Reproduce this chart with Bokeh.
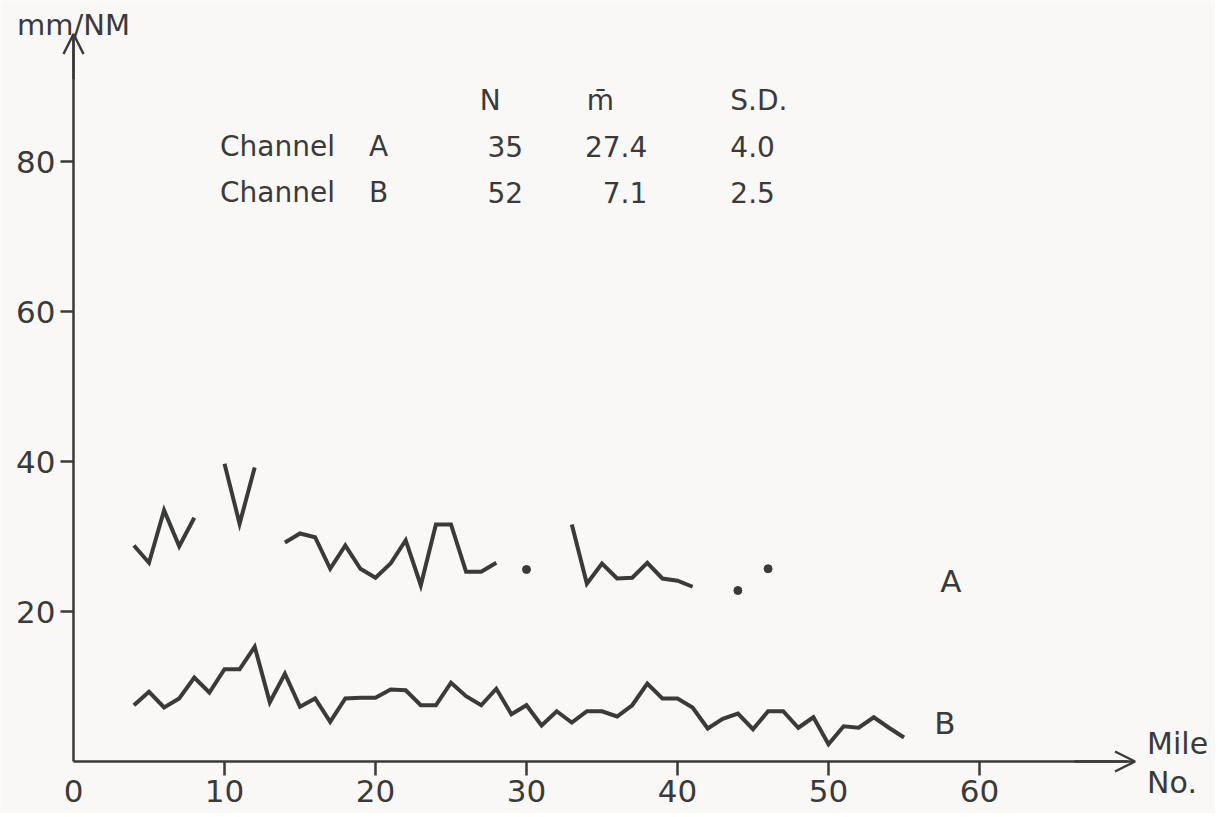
from bokeh.plotting import figure
from bokeh.models import FixedTicker, Arrow, OpenHead, Label
from bokeh.embed import file_html
from bokeh.resources import INLINE

# ---- data ----
a_miles = [4, 5, 6, 7, 8, 10, 11, 12,
           14, 15, 16, 17, 18, 19, 20, 21, 22, 23, 24, 25, 26, 27, 28,
           30,
           33, 34, 35, 36, 37, 38, 39, 40, 41,
           44, 46]
a_values = [28.8, 26.5, 33.5, 28.7, 32.5, 39.7, 31.7, 39.2,
            29.2, 30.4, 29.9, 25.7, 28.8, 25.7, 24.5, 26.4, 29.5, 23.5, 31.6, 31.6, 25.3, 25.3, 26.5,
            25.6,
            31.6, 23.7, 26.4, 24.4, 24.5, 26.5, 24.4, 24.1, 23.3,
            22.8, 25.7]

b_miles = list(range(4, 56))
b_values = [7.5, 9.3, 7.2, 8.4, 11.2, 9.2, 12.3, 12.3, 15.3, 7.9, 11.7, 7.3, 8.4,
            5.3, 8.4, 8.5, 8.5, 9.6, 9.5, 7.5, 7.5, 10.5, 8.7, 7.5, 9.7,
            6.3, 7.5, 4.8, 6.7, 5.2, 6.7, 6.7, 6.0, 7.5, 10.4, 8.4, 8.4, 7.2,
            4.4, 5.7, 6.4, 4.3, 6.7, 6.7, 4.5, 5.9, 2.3, 4.7, 4.5, 5.9, 4.5, 3.2]

x_ticks = [0, 10, 20, 30, 40, 50, 60]
y_ticks = [20, 40, 60, 80]

stat_headers = ["N", "m\u0304", "S.D."]
channel_names = ["Channel A", "Channel B"]
n_values = ["35", "52"]
mean_values = ["27.4", "7.1"]
sd_values = ["4.0", "2.5"]
series_labels = ["A", "B"]

# ---- styling / layout ----
INK = "#3a3a3a"
PAPER = "#f9f8f6"
FONT = "DejaVu Sans"
W, H = 1215, 813
X0_PX, X_SCALE = 73.0, 15.1      # pixel of mile 0, pixels per mile
Y0_PX, Y_SCALE = 761.0, 7.5      # pixel of 0 mm/NM, pixels per unit
X_TIP = 70.3
Y_TIP = 97.0
TICK_OUT_X = 14
STANDOFF_X = 4

x_range = (-X0_PX / X_SCALE, (W - X0_PX) / X_SCALE)
y_range = ((Y0_PX - H) / Y_SCALE, Y0_PX / Y_SCALE)

p = figure(width=W, height=H, output_backend="svg", toolbar_location=None,
           x_range=x_range, y_range=y_range,
           min_border_left=0, min_border_right=0, min_border_top=0, min_border_bottom=0)
p.background_fill_color = PAPER
p.border_fill_color = PAPER
p.outline_line_color = None
p.grid.visible = False

for ax in (p.xaxis, p.yaxis):
    ax.fixed_location = 0
    ax.axis_line_color = INK
    ax.axis_line_width = 2.5
    ax.major_tick_line_color = INK
    ax.major_tick_line_width = 2.5
    ax.major_tick_in = 0
    ax.minor_tick_line_color = None
    ax.major_label_text_font = FONT
    ax.major_label_text_font_size = "31px"
    ax.major_label_text_color = INK

# the origin carries a label but no tick mark in the original
p.xaxis.ticker = FixedTicker(ticks=[t for t in x_ticks if t != 0])
p.xaxis.bounds = (0, X_TIP - 0.5)
p.xaxis.major_tick_out = TICK_OUT_X
p.xaxis.major_label_standoff = STANDOFF_X
p.yaxis.ticker = FixedTicker(ticks=y_ticks)
p.yaxis.bounds = (0, Y_TIP - 0.5)
p.yaxis.major_tick_out = 13
p.yaxis.major_label_standoff = 5

# axis arrows
p.add_layout(Arrow(end=OpenHead(size=20, line_color=INK, line_width=2.5),
                   x_start=0, y_start=Y_TIP - 6, x_end=0, y_end=Y_TIP,
                   line_color=INK, line_width=2.5))
p.add_layout(Arrow(end=OpenHead(size=20, line_color=INK, line_width=2.5),
                   x_start=X_TIP - 4, y_start=0, x_end=X_TIP, y_end=0,
                   line_color=INK, line_width=2.5))

# channel A: split into consecutive runs; single points shown as dots
runs = []
cur = [0]
for i in range(1, len(a_miles)):
    if a_miles[i] - a_miles[i - 1] == 1:
        cur.append(i)
    else:
        runs.append(cur)
        cur = [i]
runs.append(cur)
dot_x, dot_y = [], []
for r in runs:
    xs = [a_miles[i] for i in r]
    ys = [a_values[i] for i in r]
    if len(r) == 1:
        dot_x += xs
        dot_y += ys
    else:
        p.line(xs, ys, line_color=INK, line_width=4, line_join="miter")
p.scatter(dot_x, dot_y, size=8, color=INK)

# channel B
p.line(b_miles, b_values, line_color=INK, line_width=4, line_join="miter")


def lab(x, y, text, size="28px", align="center", baseline="middle"):
    p.add_layout(Label(x=x, y=y, text=text, text_font=FONT, text_font_size=size,
                       text_color=INK, text_align=align, text_baseline=baseline))


# origin label of the x axis, placed like the other tick labels
lab(0, -(TICK_OUT_X + STANDOFF_X) / Y_SCALE, str(x_ticks[0]), size="31px", baseline="top")

# axis titles
lab(0, 98.2, "mm/NM", size="29px")
lab(71.1, 2.4, "Mile", size="30px", align="left")
lab(71.1, -2.8, "No.", size="30px", align="left")

# series labels
lab(58.1, 24.1, series_labels[0], size="31px")
lab(57.7, 5.2, series_labels[1], size="31px")

# statistics table
row_y = [82.0, 75.9]
lab(27.6, 88.1, stat_headers[0])
lab(34.9, 88.1, stat_headers[1])
lab(43.5, 88.1, stat_headers[2], align="left")
for k in range(2):
    word, letter = channel_names[k].rsplit(" ", 1)
    lab(9.7, row_y[k], word, align="left")
    lab(20.2, row_y[k], letter)
    lab(28.6, row_y[k], n_values[k])
    lab(38.0, row_y[k], mean_values[k], align="right")
    lab(43.5, row_y[k], sd_values[k], align="left")

open("out.html", "w").write(file_html(p, INLINE))
